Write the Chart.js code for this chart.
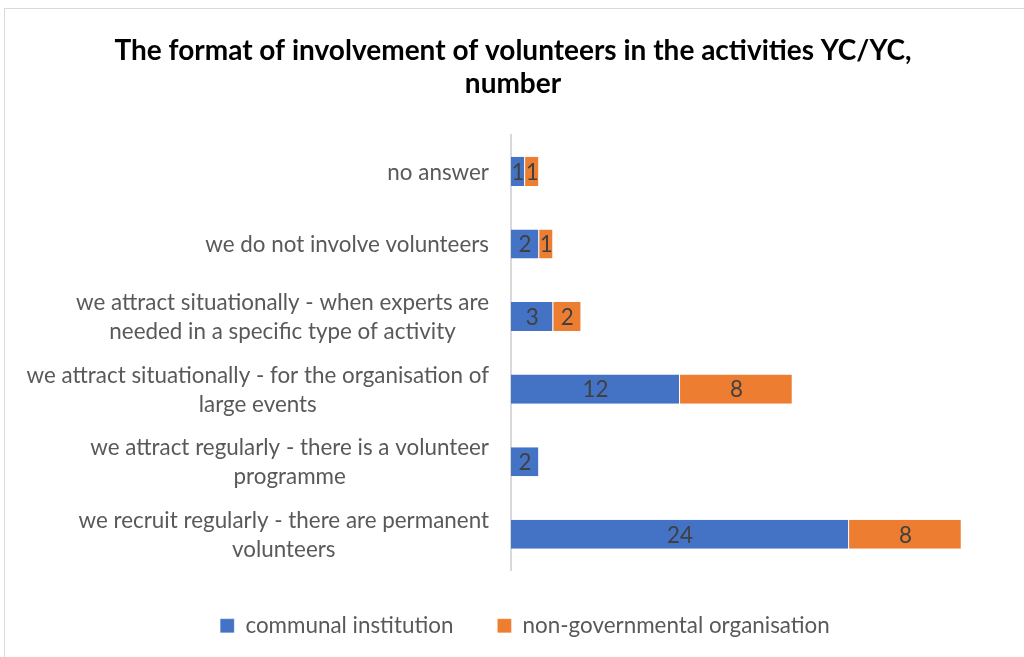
<!DOCTYPE html>
<html>
<head>
<meta charset="utf-8">
<script src="https://cdn.jsdelivr.net/npm/chart.js@4.4.0/dist/chart.umd.min.js"></script>
<style>
  html, body { margin: 0; padding: 0; background: #fff; overflow: hidden; }
  #wrap { position: relative; width: 1024px; height: 657px; }
  #frame { position: absolute; left: 4px; top: 8px; width: 1040px; height: 670px; border: 1px solid #d9d9d9; box-sizing: border-box; }
  canvas { position: absolute; left: 0; top: 0; }
</style>
</head>
<body>
<div id="wrap">
  <div id="frame"></div>
  <canvas id="chart" width="1024" height="657"></canvas>
</div>
<script>
// categories, top to bottom
const categories = [
  ['no answer'],
  ['we do not involve volunteers'],
  ['we attract situationally - when experts are', 'needed in a specific type of activity'],
  ['we attract situationally - for the organisation of', 'large events'],
  ['we attract regularly - there is a volunteer', 'programme'],
  ['we recruit regularly - there are permanent', 'volunteers']
];
const communal = [1, 2, 3, 12, 2, 24];
const ngo = [1, 1, 2, 8, 0, 8];

const FONT = 'Lato, "Open Sans", sans-serif';
const LABEL_SIZE = 22.4;
const LEFT_PAD = 22;

// category labels: block sits right against the axis, lines centred inside it
const categoryLabels = {
  id: 'categoryLabels',
  afterDraw(chart) {
    const ctx = chart.ctx;
    const yScale = chart.scales.y;
    const right = chart.chartArea.left - 22;
    const lineGap = 29;
    ctx.save();
    ctx.font = LABEL_SIZE + 'px ' + FONT;
    ctx.fillStyle = '#595959';
    ctx.textAlign = 'center';
    ctx.textBaseline = 'middle';
    chart.data.labels.forEach((lines, i) => {
      const y = yScale.getPixelForTick(i);
      const w = Math.max(...lines.map(l => ctx.measureText(l).width));
      const cx = right - w / 2;
      const top = y - (lines.length - 1) * lineGap / 2;
      lines.forEach((l, k) => ctx.fillText(l, cx, top + k * lineGap + 1));
    });
    ctx.restore();
  }
};

// write each segment's value in the middle of the bar
const valueLabels = {
  id: 'valueLabels',
  afterDatasetsDraw(chart) {
    const ctx = chart.ctx;
    ctx.save();
    ctx.font = LABEL_SIZE + 'px ' + FONT;
    ctx.fillStyle = '#404040';
    ctx.textAlign = 'center';
    ctx.textBaseline = 'middle';
    chart.data.datasets.forEach((ds, i) => {
      chart.getDatasetMeta(i).data.forEach((bar, j) => {
        const v = ds.data[j];
        if (!v) return;
        const cx = (bar.x + bar.base) / 2;
        ctx.fillText(String(v), cx, bar.y + 1);
      });
    });
    ctx.restore();
  }
};

// nudge the legend a little to the right of the title's centre line
const legendShift = {
  id: 'legendShift',
  beforeDraw(chart) {
    const lg = chart.legend;
    if (lg && !lg._shifted) {
      lg.left += 12;
      lg.right += 12;
      lg._shifted = true;
    }
  }
};

new Chart(document.getElementById('chart'), {
  type: 'bar',
  data: {
    labels: categories,
    datasets: [
      { label: 'communal institution', data: communal, backgroundColor: '#4472c4', borderColor: '#ffffff', borderWidth: { right: 1 }, borderSkipped: false },
      { label: 'non-governmental organisation', data: ngo, backgroundColor: '#ed7d31', borderColor: '#ffffff', borderWidth: { right: 1 }, borderSkipped: false }
    ]
  },
  options: {
    indexAxis: 'y',
    responsive: false,
    animation: false,
    layout: { padding: { top: 0, right: 20, bottom: 10, left: LEFT_PAD } },
    datasets: { bar: { categoryPercentage: 0.8, barPercentage: 0.5 } },
    scales: {
      x: {
        stacked: true,
        min: 0,
        max: 35,
        display: false
      },
      y: {
        stacked: true,
        afterFit(scale) { scale.width = 511 - LEFT_PAD; },
        grid: { display: false, drawTicks: false },
        border: { display: true, color: '#d9d9d9', width: 2 },
        ticks: { display: false }
      }
    },
    plugins: {
      title: {
        display: true,
        text: ['The format of involvement of volunteers in the activities YC/YC,', 'number'],
        color: '#000000',
        font: { family: FONT, size: 28, weight: 'bold', lineHeight: 1.18 },
        padding: { top: 34, bottom: 35 }
      },
      legend: {
        position: 'bottom',
        labels: {
          color: '#595959',
          font: { family: FONT, size: LABEL_SIZE },
          boxWidth: 14,
          boxHeight: 14,
          padding: 44
        }
      },
      tooltip: { enabled: false }
    }
  },
  plugins: [valueLabels, categoryLabels, legendShift]
});
</script>
</body>
</html>
